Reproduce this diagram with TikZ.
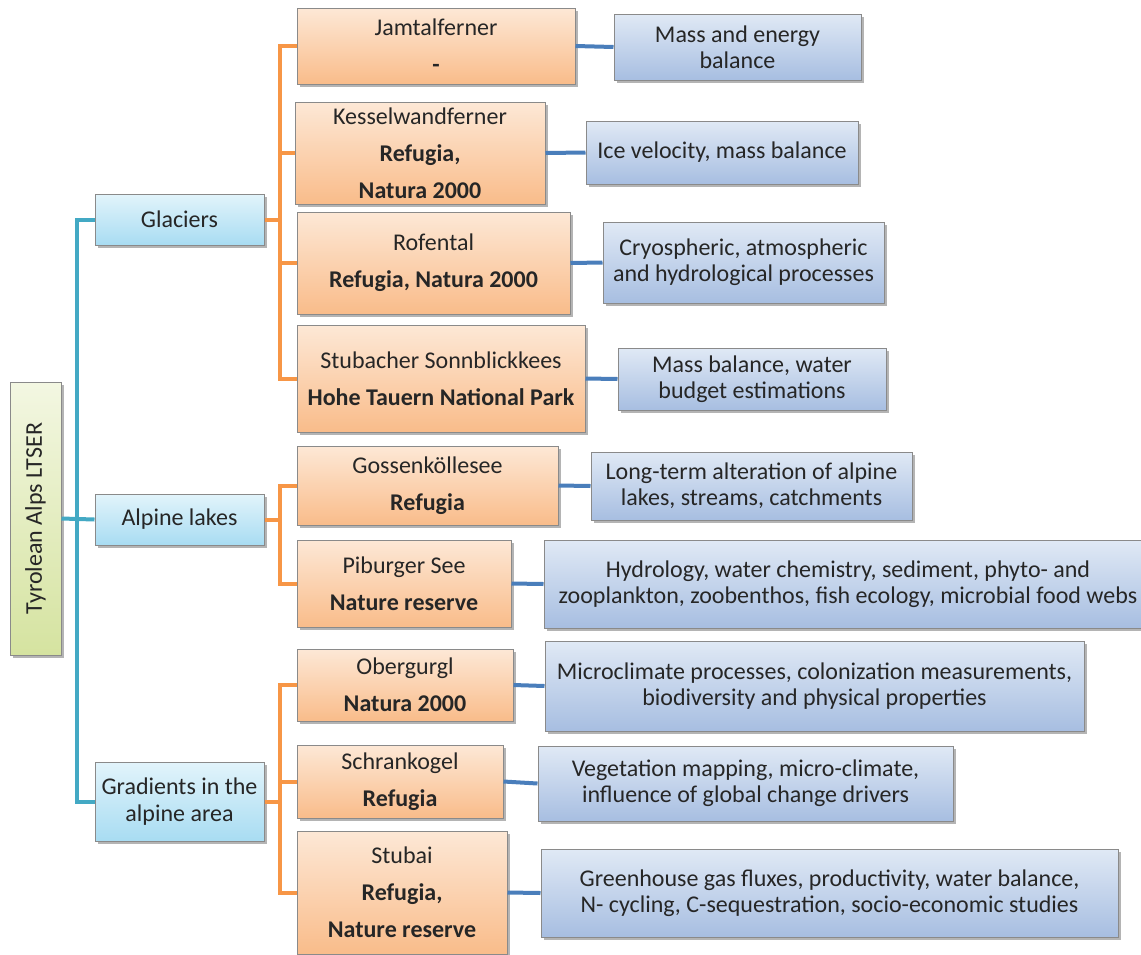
\documentclass[tikz,border=0pt]{standalone}
\usepackage{fontspec}
\setmainfont{Carlito}
\usetikzlibrary{shadows}
\definecolor{boxgray}{HTML}{8A8A8A}
\definecolor{txt}{HTML}{262626}
\definecolor{greentop}{HTML}{F3F7E2}
\definecolor{greenbot}{HTML}{D5E3A0}
\definecolor{cyantop}{HTML}{E2F4FB}
\definecolor{cyanbot}{HTML}{A8DCF2}
\definecolor{orgtop}{HTML}{FDE8D6}
\definecolor{orgbot}{HTML}{F9BC8A}
\definecolor{bluetop}{HTML}{E0E9F5}
\definecolor{bluebot}{HTML}{A7BEE1}
\definecolor{tealline}{HTML}{43A9C4}
\definecolor{orgline}{HTML}{F79646}
\definecolor{blueline}{HTML}{4A7EBB}
\begin{document}
\begin{tikzpicture}[x=1pt,y=-1pt,
  box/.style={draw=boxgray, line width=1pt, inner sep=0pt, align=center, text=txt,
    font=\fontsize{24}{26}\selectfont,
    drop shadow={shadow xshift=2.5pt, shadow yshift=-3pt, opacity=0.45, fill=black!65}},
  rootbox/.style={box, top color=greentop, bottom color=greenbot},
  catbox/.style={box, top color=cyantop, bottom color=cyanbot, font=\fontsize{24}{27}\selectfont},
  sitebox/.style={box, top color=orgtop, bottom color=orgbot, font=\fontsize{24}{37}\selectfont},
  descbox/.style={box, top color=bluetop, bottom color=bluebot},
  tl/.style={draw=tealline, line width=4pt},
  ol/.style={draw=orgline, line width=4pt},
  bl/.style={draw=blueline, line width=4pt}]
\clip (0,0) rectangle (1141,954);
\fill[white] (0,0) rectangle (1141,954);
% root and categories
\node[rootbox, minimum width=51, minimum height=273] (root) at (35.5,518.5) {\rotatebox{90}{Tyrolean Alps LTSER}};
\node[catbox, minimum width=169, minimum height=51] (gla) at (179.5,219.5) {Glaciers};
\node[catbox, minimum width=169, minimum height=51] (alp) at (179.5,519.5) {Alpine lakes};
\node[catbox, minimum width=169, minimum height=79] (gra) at (179.5,801.5) {Gradients in the\\alpine area};
% sites
\node[sitebox, minimum width=278, minimum height=76] (jam) at (436,46) {Jamtalferner\\\textbf{-}};
\node[sitebox, minimum width=250, minimum height=102] (kes) at (420,153) {Kesselwandferner\\\textbf{Refugia,}\\\textbf{Natura 2000}};
\node[sitebox, minimum width=273, minimum height=102] (rof) at (433.5,263) {Rofental\\\textbf{Refugia, Natura 2000}};
\node[sitebox, minimum width=288, minimum height=107] (stu) at (441,378.5) {Stubacher Sonnblickkees\\\textbf{Hohe Tauern National Park}};
\node[sitebox, minimum width=261, minimum height=79] (gos) at (427.5,485.5) {Gossenköllesee\\\textbf{Refugia}};
\node[sitebox, minimum width=214, minimum height=87] (pib) at (404,583.5) {Piburger See\\\textbf{Nature reserve}};
\node[sitebox, minimum width=216, minimum height=72] (obe) at (405,685) {Obergurgl\\\textbf{Natura 2000}};
\node[sitebox, minimum width=206, minimum height=73] (sch) at (400,781.5) {Schrankogel\\\textbf{Refugia}};
\node[sitebox, minimum width=210, minimum height=123] (sta) at (402,892.5) {Stubai\\\textbf{Refugia,}\\\textbf{Nature reserve}};
% descriptions
\node[descbox, minimum width=247, minimum height=66] (d1) at (737.5,47) {Mass and energy\\balance};
\node[descbox, minimum width=272, minimum height=63] (d2) at (722,152.5) {Ice velocity, mass balance};
\node[descbox, minimum width=281, minimum height=81] (d3) at (743.5,262.5) {Cryospheric, atmospheric\\and hydrological processes};
\node[descbox, minimum width=268, minimum height=62] (d4) at (752,379) {Mass balance, water\\budget estimations};
\node[descbox, minimum width=321, minimum height=68] (d5) at (751.5,486) {Long-term alteration of alpine\\lakes, streams, catchments};
\node[descbox, minimum width=608, minimum height=88] (d6) at (848,584) {Hydrology, water chemistry, sediment, phyto- and\\zooplankton, zoobenthos, fish ecology, microbial food webs};
\node[descbox, minimum width=539, minimum height=90] (d7) at (814.5,686) {Microclimate processes, colonization measurements,\\biodiversity and physical properties};
\node[descbox, minimum width=415, minimum height=75] (d8) at (745.5,783.5) {Vegetation mapping, micro-climate,\\influence of global change drivers};
\node[descbox, minimum width=577, minimum height=88] (d9) at (829.5,893) {Greenhouse gas fluxes, productivity, water balance,\\N- cycling, C-sequestration, socio-economic studies};
% teal connectors
\coordinate (tx) at (77,518.5);
\draw[tl] (root.east) -- (alp.west);
\draw[tl] (gla.west) -- (gla.west -| tx) -- (gra.west -| tx) -- (gra.west);
% orange connectors
\coordinate (ox) at (280,0);
\draw[ol] (gla.east) -- (gla.east -| ox);
\draw[ol] (jam.west) -- (jam.west -| ox) -- (stu.west -| ox) -- (stu.west);
\draw[ol] (kes.west) -- (kes.west -| ox);
\draw[ol] (rof.west) -- (rof.west -| ox);
\draw[ol] (alp.east) -- (alp.east -| ox);
\draw[ol] (gos.west) -- (gos.west -| ox) -- (pib.west -| ox) -- (pib.west);
\draw[ol] (gra.east) -- (gra.east -| ox);
\draw[ol] (obe.west) -- (obe.west -| ox) -- (sta.west -| ox) -- (sta.west);
\draw[ol] (sch.west) -- (sch.west -| ox);
% blue connectors
\draw[bl] (jam.east) -- (d1.west);
\draw[bl] (kes.east) -- (d2.west);
\draw[bl] (rof.east) -- (d3.west);
\draw[bl] (stu.east) -- (d4.west);
\draw[bl] (gos.east) -- (d5.west);
\draw[bl] (pib.east) -- (d6.west);
\draw[bl] (obe.east) -- (d7.west);
\draw[bl] (sch.east) -- (d8.west);
\draw[bl] (sta.east) -- (d9.west);
\end{tikzpicture}
\end{document}
